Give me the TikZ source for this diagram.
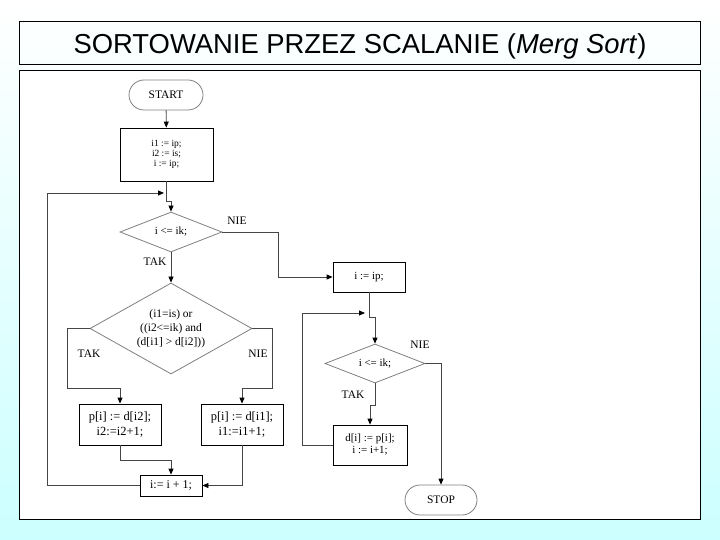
\documentclass[tikz,border=0pt]{standalone}
\usepackage{fontspec}
\setmainfont{Liberation Serif}
\newfontfamily\titlefont{Liberation Sans}
\usetikzlibrary{shapes.geometric,arrows.meta}
\newcommand\setfs[2]{\fontsize{#1}{#2}\selectfont}

\begin{document}
\begin{tikzpicture}[x=1bp,y=-1bp,
box/.style={draw=black,line width=0.8bp,fill=white,align=center,inner sep=0pt},
term/.style={draw=gray,line width=0.8bp,fill=white,rounded corners=15bp,minimum width=74bp,minimum height=30bp,inner sep=0pt,font=\setfs{11.5}{13}},
cond/.style={diamond,draw=gray,line width=0.8bp,fill=white,align=center,inner sep=0pt},
lbl/.style={font=\setfs{11.5}{13}},
arr/.style={draw=gray!55!black,line width=0.8bp,-{Triangle[length=6bp,width=5bp,color=black]}}]
\useasboundingbox (0,0) rectangle (720,540);
\shade[shading angle=45,top color=white,bottom color=cyan!20] (0,0) rectangle (720,540);
\node[draw,line width=1bp,minimum width=680bp,minimum height=43.5bp,inner sep=0pt,text height=20bp,text depth=0pt,font=\titlefont\setfs{27.5}{30}] (title) at (360,43.25) {SORTOWANIE PRZEZ SCALANIE (\textit{Merg Sort})};
\draw[line width=1bp,fill=white] (19.5,71) rectangle (700,519);

\node[term] (start) at (166,95) {START};
\node[box,minimum width=93bp,minimum height=53bp,font=\setfs{9.5}{9.8}] (init) at (166.5,154.5) {i1 := ip;\\ i2 := is;\\ i := ip;};
\node[cond,aspect=2.5,minimum width=102bp,minimum height=40bp,font=\setfs{11}{13}] (test1) at (171,232) {i <= ik;};
\node[cond,aspect=1.8,minimum width=162bp,minimum height=91bp,font=\setfs{11.5}{14}] (test2) at (171,328.5) {(i1=is) or\\ ((i2<=ik) and\\ (d[i1] > d[i2]))};
\node[box,minimum width=82bp,minimum height=41bp,font=\setfs{12.5}{15}] (left) at (120,424.5) {p[i] := d[i2];\\ i2:=i2+1;};
\node[box,minimum width=82bp,minimum height=41bp,font=\setfs{12.5}{15}] (right) at (242,424.5) {p[i] := d[i1];\\ i1:=i1+1;};
\node[box,minimum width=62bp,minimum height=21bp,font=\setfs{12}{14}] (incr) at (171,485.5) {i:= i + 1;};
\node[box,minimum width=72bp,minimum height=30bp,font=\setfs{11}{13}] (set) at (369,277) {i := ip;};
\node[cond,aspect=2.5,minimum width=100bp,minimum height=39bp,font=\setfs{11}{13}] (test3) at (375,363.5) {i <= ik;};
\node[box,minimum width=74bp,minimum height=40bp,font=\setfs{11}{12}] (copy) at (370,445) {d[i] := p[i];\\ i := i+1;};
\node[term,minimum width=72bp] (stop) at (441,500) {STOP};
\foreach \x/\y/\t [count=\n] in %
{237/221/NIE,155/262/TAK,89/354/TAK,258/354/NIE,420/345/NIE,353/395/TAK} {
   \node[lbl] (lab\n) at (\x,\y) {\t};
}
\coordinate (join1) at (164,193);
\coordinate (join2) at (365,313);

\draw[arr] (start) -- (init);
\draw[arr] (init.south) -- ++(0,20) -| (test1.north);
\draw[arr] (test1.east) -- ++(56,0) |- (set.west);
\draw[arr] (test1) -- (test2);
\draw[arr] (test2.west) -- ++(-22,0) -- ++(0,60) -| (left.north);
\draw[arr] (test2.east) -- ++(20,0) -- ++(0,60) -| (right.north);
\draw[arr] (left.south) -- ++(0,15) -| (incr.north);
\draw[arr] (right.south) |- (incr.east);
\draw[arr] (incr.west) -- ++(-92,0) |- (join1);
\draw[arr] (set.south) -- ++(0,25) -| (test3.north);
\draw[arr] (test3.east) -| (stop.north);
\draw[arr] (test3.south) -- ++(0,22) -| (copy.north);
\draw[arr] (copy.west) -- ++(-30,0) |- (join2);
\end{tikzpicture}
\end{document}
